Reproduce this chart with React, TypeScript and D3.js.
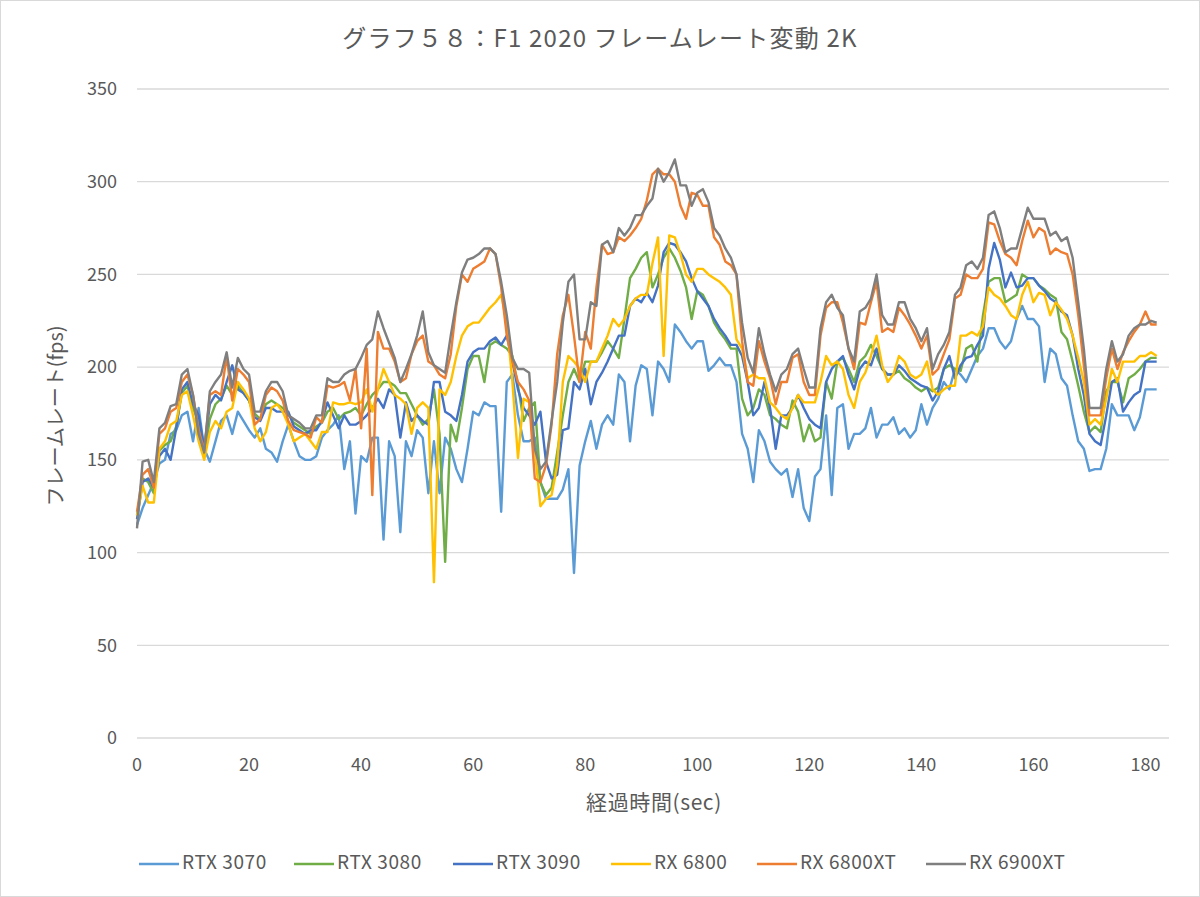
import React from "react";
import * as d3 from "d3";

const seriesNames = ["RTX 3070", "RTX 3080", "RTX 3090", "RX 6800", "RX 6800XT", "RX 6900XT"];
const seriesColors = ["#5B9BD5", "#70AD47", "#4472C4", "#FFC000", "#ED7D31", "#7F7F7F"];
const yTicks = [0, 50, 100, 150, 200, 250, 300, 350];
const xTicks = [0, 20, 40, 60, 80, 100, 120, 140, 160, 180];

const rx6900xt = [113,149,150,138,167,170,179,180,196,199,185,164,154,187,192,196,208,189,205,199,196,176,176,187,192,192,187,174,172,170,
167,167,174,174,194,192,192,196,198,199,205,212,215,230,221,213,205,192,199,207,217,230,208,201,199,197,217,235,251,258,
259,261,264,264,261,246,228,205,199,199,197,156,145,149,171,192,224,246,250,215,215,235,233,266,268,262,275,271,275,282,
282,287,291,307,300,305,312,298,298,287,294,296,289,275,271,264,259,250,224,205,197,221,207,196,187,196,199,207,210,199,
189,189,221,235,239,232,228,210,203,230,232,237,250,228,223,223,235,235,226,221,214,221,199,207,212,219,239,243,255,257,
253,259,282,284,275,262,264,264,275,286,280,280,280,271,273,268,270,259,235,210,178,178,178,199,214,203,207,217,221,223,
223,225,224];
const rx6800xt = [122,142,145,135,164,167,176,178,192,196,185,166,155,185,187,185,206,182,199,196,192,169,172,185,189,187,182,171,166,165,
164,162,173,170,190,189,190,192,182,199,167,210,131,219,210,210,203,192,194,207,214,217,203,201,196,194,207,233,250,246,
253,255,257,264,261,243,217,203,192,188,182,140,138,147,169,207,228,239,217,192,219,210,243,266,261,262,270,268,271,275,
280,290,304,307,304,304,300,287,280,294,293,287,287,270,266,257,255,250,214,192,190,214,203,194,180,192,192,205,207,192,
185,185,217,232,235,235,224,210,199,224,223,235,246,219,221,219,232,228,223,217,210,217,196,199,207,215,237,239,250,248,
248,253,278,277,268,261,259,255,268,279,270,275,273,261,264,262,261,250,228,201,174,174,174,194,210,199,208,214,219,223,
230,223,223];
const rx6800 = [120,136,127,127,156,160,169,171,185,187,174,160,150,165,171,167,176,178,192,188,183,167,160,165,178,180,176,169,160,162,
164,160,156,165,165,181,180,180,181,180,181,188,176,188,199,192,185,183,180,164,178,181,178,84,188,185,192,206,217,222,
224,224,228,232,235,239,224,192,151,183,181,156,125,129,131,147,192,206,203,199,192,203,203,210,217,226,222,226,233,237,
239,239,256,270,206,271,270,261,250,246,253,253,250,248,246,243,239,215,210,194,196,194,194,181,178,174,172,178,185,181,
181,181,192,206,201,203,199,185,178,192,197,206,217,201,192,196,206,203,196,194,196,203,188,185,188,190,190,217,217,219,
217,222,243,239,237,233,228,226,239,246,235,240,239,228,235,231,226,217,205,192,169,172,169,183,199,192,203,203,203,206,
206,208,206];
const rtx3090 = [118,138,140,135,152,156,150,167,188,192,180,174,156,180,185,182,192,201,188,186,182,173,171,178,178,176,176,176,168,166,
164,166,166,171,181,174,167,174,169,169,171,174,178,183,178,188,185,162,181,171,174,171,169,192,192,176,174,171,185,203,
208,210,210,214,216,212,217,203,188,178,174,169,176,149,140,142,166,167,192,188,199,180,192,197,203,210,217,217,233,237,
235,240,235,244,262,267,266,262,257,248,241,237,233,226,221,217,212,212,206,192,174,178,192,178,156,174,174,178,185,178,
172,169,167,192,199,203,206,196,188,199,203,201,210,199,196,196,201,198,194,192,190,189,182,187,199,206,194,201,205,206,
212,217,253,267,258,243,251,243,244,248,248,244,241,237,235,230,228,217,199,185,164,160,158,174,192,194,176,181,185,187,
203,203,203];
const rtx3080 = [120,140,138,132,155,158,160,168,186,190,178,170,152,172,180,183,190,185,190,186,182,175,172,180,182,180,178,175,170,168,
166,164,168,170,176,178,172,175,176,178,174,180,185,188,192,192,190,186,186,180,174,169,172,188,164,95,169,160,178,199,
206,206,192,212,214,212,210,206,190,171,178,181,138,131,135,154,174,192,199,192,203,203,203,208,214,210,205,226,248,253,
259,262,243,250,259,264,259,252,243,226,241,239,233,224,219,215,210,210,183,174,178,188,185,174,172,169,167,182,176,160,
169,160,162,192,183,203,205,199,192,203,206,212,206,199,196,196,198,194,192,189,187,189,187,189,199,201,199,198,210,212,
203,228,246,248,248,235,237,239,250,248,248,244,242,239,237,219,215,203,190,176,165,168,165,187,192,192,181,194,196,199,
203,205,205];
const rtx3070 = [115,124,131,138,148,150,164,166,174,176,160,178,156,149,160,171,174,164,176,171,166,162,167,156,154,149,160,169,160,152,
150,150,152,162,166,169,174,145,160,121,152,149,162,162,107,160,152,111,160,152,166,162,132,160,132,162,156,145,138,156,
176,174,181,179,179,122,192,196,174,160,160,162,138,129,129,129,134,145,89,147,160,171,156,169,174,169,196,192,160,190,
201,199,174,203,199,192,223,219,214,210,214,214,198,201,205,201,201,192,164,156,138,166,160,149,145,142,145,130,145,124,
117,141,145,174,131,178,180,156,164,164,167,178,162,169,169,173,164,167,162,166,180,169,178,183,192,188,199,196,192,199,
206,210,221,221,214,210,214,226,233,226,226,222,192,210,207,194,190,174,160,156,144,145,145,156,180,174,174,174,166,173,
188,188,188];

const seriesData = [rtx3070, rtx3080, rtx3090, rx6800, rx6800xt, rx6900xt];

const W = 1200;
const H = 897;
const FONT = "'Noto Sans CJK JP', 'Noto Sans', sans-serif";
const TEXT = "#595959";

export default function App() {
  const x = d3.scaleLinear().domain([0, 184.2]).range([137, 1169]);
  const y = d3.scaleLinear().domain([0, 350]).range([738, 89]);
  const line = d3
    .line<number>()
    .x((_, i) => x(i))
    .y((d) => y(d));

  const legendX = [139, 294, 453, 611, 757, 926];

  return (
    <svg
      width={W}
      height={H}
      style={{ position: "absolute", left: 0, top: 0, background: "#fff" }}
      fontFamily={FONT}
    >
      <rect x={0.5} y={0.5} width={W - 1} height={H - 1} fill="#fff" stroke="#d9d9d9" strokeWidth={1} />
      <text x={600} y={47} textAnchor="middle" fontSize={24} letterSpacing={1.2} fill={TEXT}>
        グラフ５８：F1 2020 フレームレート変動 2K
      </text>
      {yTicks.map((t) => (
        <g key={"y" + t}>
          <line x1={137} x2={1169} y1={y(t)} y2={y(t)} stroke="#d9d9d9" strokeWidth={1.3} />
          <text x={117} y={y(t)} dy="0.35em" textAnchor="end" fontSize={18} fill={TEXT}>
            {t}
          </text>
        </g>
      ))}
      {xTicks.map((t) => (
        <text key={"x" + t} x={x(t)} y={765} dy="0.35em" textAnchor="middle" fontSize={18} fill={TEXT}>
          {t}
        </text>
      ))}
      <text x={654} y={803} dy="0.35em" textAnchor="middle" fontSize={21} letterSpacing={0.6} fill={TEXT}>
        経過時間(sec)
      </text>
      <text
        transform={`translate(56,416) rotate(-90)`}
        dy="0.35em"
        textAnchor="middle"
        fontSize={20}
        fill={TEXT}
      >
        フレームレート(fps)
      </text>
      {seriesData.map((s, i) => (
        <path
          key={seriesNames[i]}
          d={line(s) || ""}
          fill="none"
          stroke={seriesColors[i]}
          strokeWidth={2.4}
          strokeLinejoin="round"
        />
      ))}
      {seriesNames.map((n, i) => (
        <g key={"lg" + n}>
          <line x1={legendX[i]} x2={legendX[i] + 40} y1={864} y2={864} stroke={seriesColors[i]} strokeWidth={2.6} />
          <text x={legendX[i] + 43} y={862} dy="0.35em" fontSize={19} letterSpacing={0.6} fill={TEXT}>
            {n}
          </text>
        </g>
      ))}
    </svg>
  );
}
